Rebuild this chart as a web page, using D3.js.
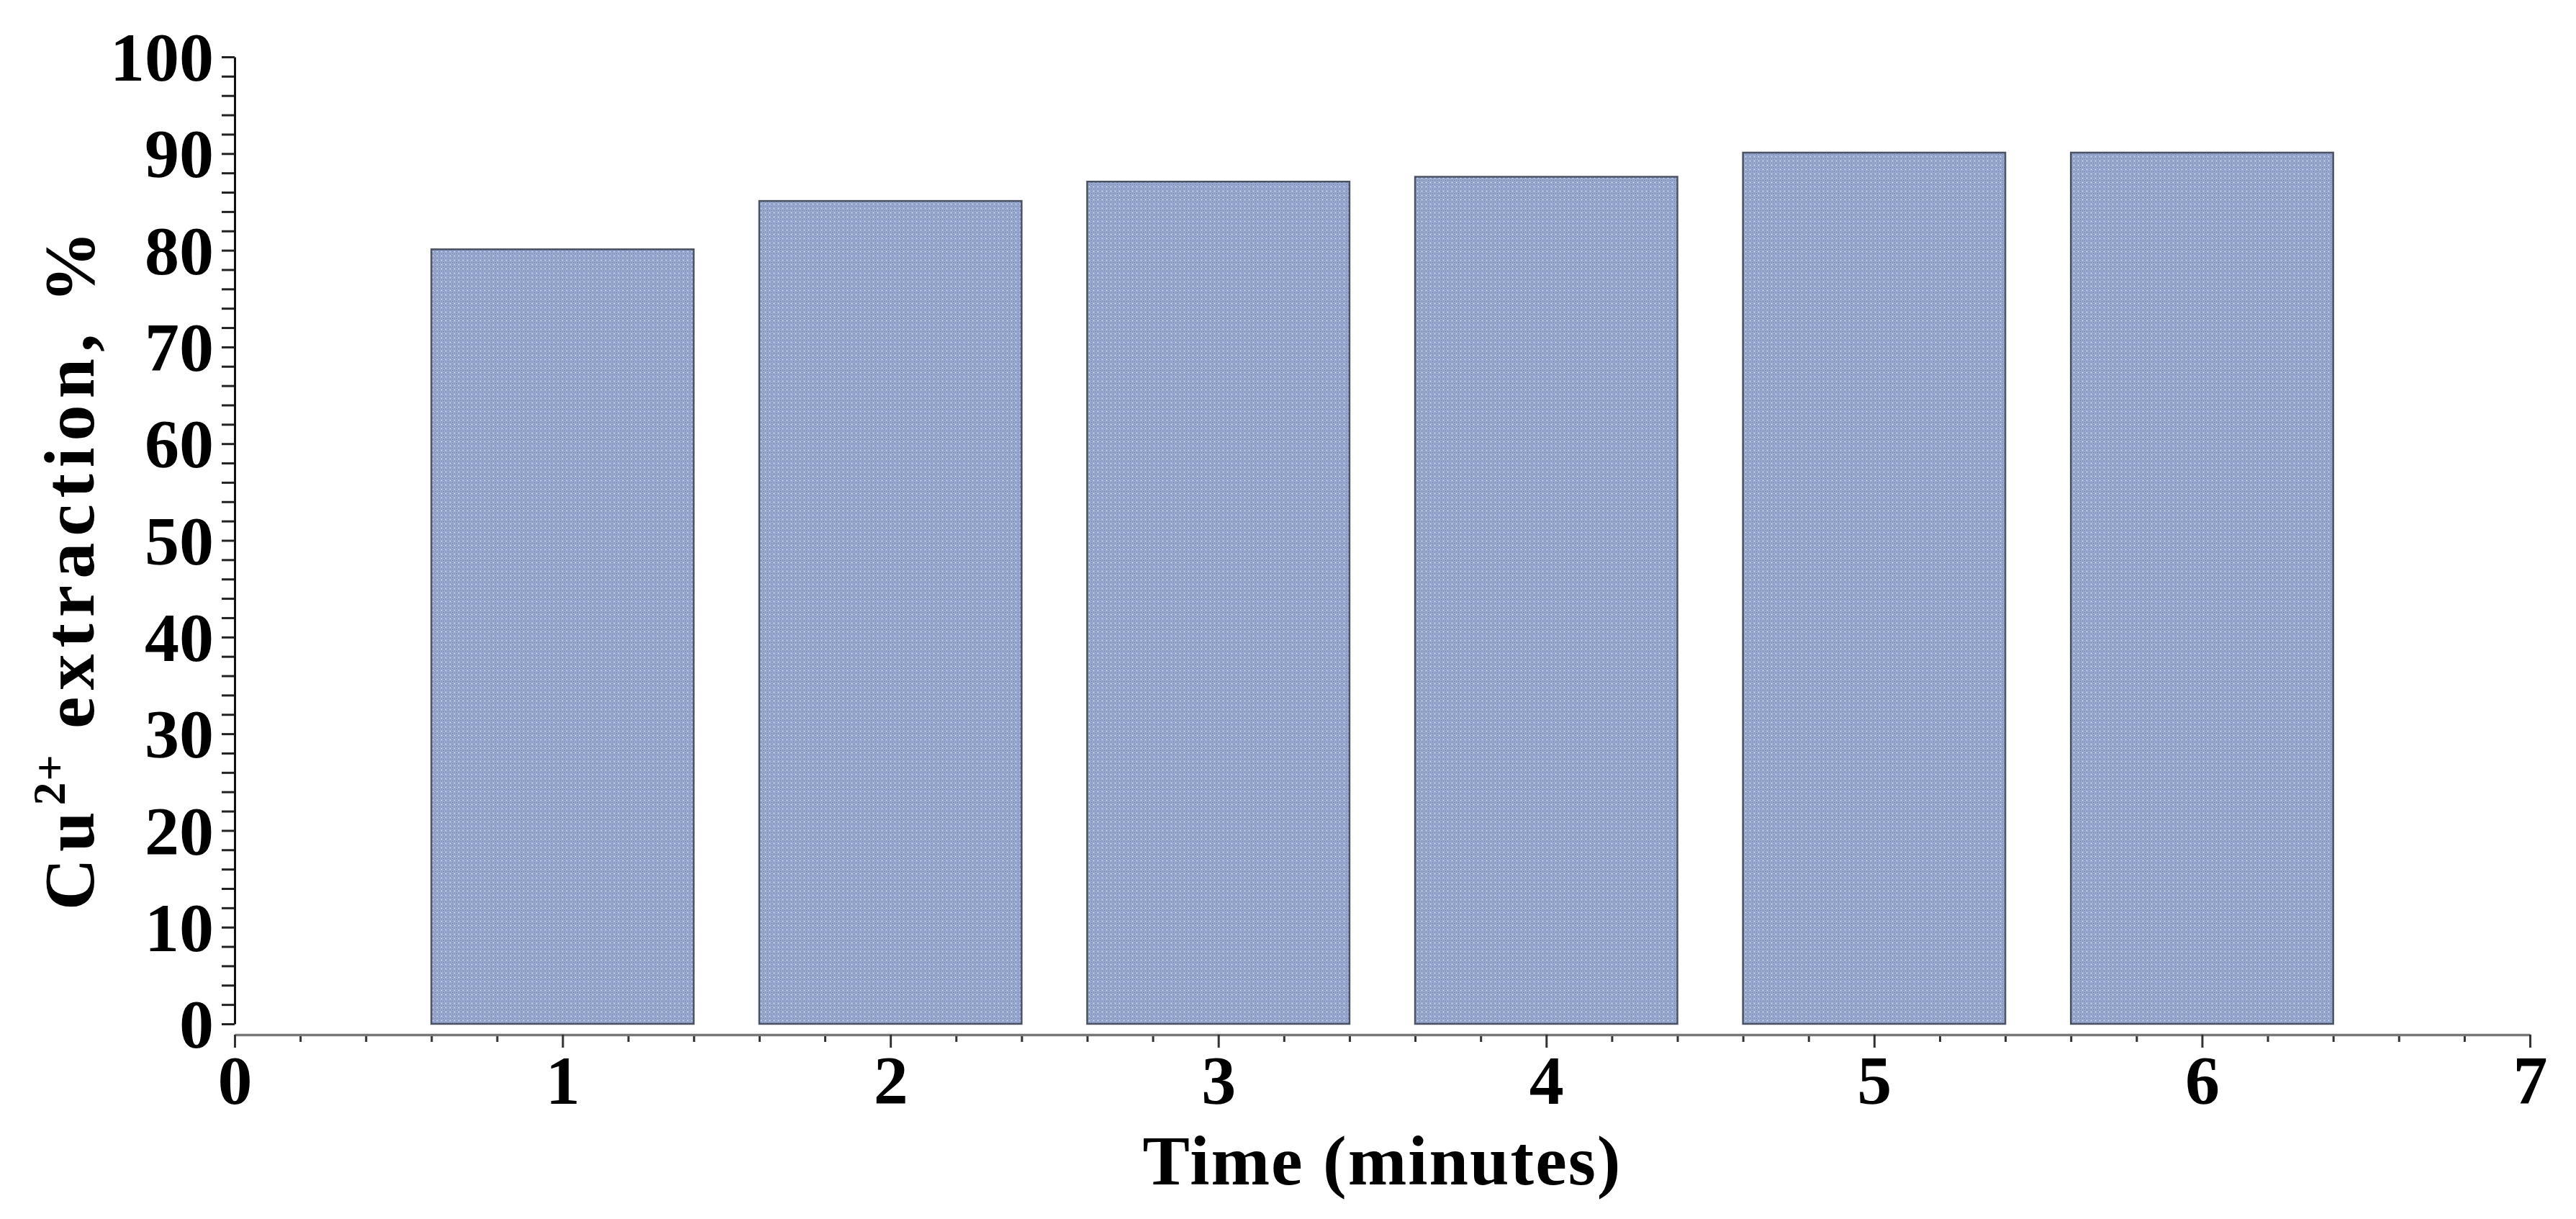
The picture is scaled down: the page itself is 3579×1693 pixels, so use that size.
<!DOCTYPE html>
<html>
<head>
<meta charset="utf-8">
<script src="https://cdn.jsdelivr.net/npm/d3@7"></script>
<style>
  html, body { margin: 0; padding: 0; background: #ffffff; }
  svg { display: block; }
  text { font-family: "Liberation Serif", "Times New Roman", serif; font-weight: bold; fill: #000; }
</style>
</head>
<body>
<svg id="chart" width="3579" height="1693"></svg>
<script>
// ---- data ----
const times = [1, 2, 3, 4, 5, 6];
const extraction = [80.1, 85.1, 87.1, 87.6, 90.1, 90.1];
const xTickValues = [0, 1, 2, 3, 4, 5, 6, 7];
const yTickValues = [0, 10, 20, 30, 40, 50, 60, 70, 80, 90, 100];
const xLabel = "Time (minutes)";
const yLabelMain = "Cu";
const yLabelSup = "2+";
const yLabelRest = " extraction, %";

// ---- layout ----
const svg = d3.select("#chart");
const x = d3.scaleLinear().domain([0, 7]).range([326, 3515]);
const y = d3.scaleLinear().domain([0, 100]).range([1422, 79]);
const xAxisY = 1437;
const barHalf = 0.4;

// pattern for bars
const defs = svg.append("defs");
const pat = defs.append("pattern")
  .attr("id", "dots").attr("patternUnits", "userSpaceOnUse")
  .attr("width", 6).attr("height", 6);
pat.append("rect").attr("width", 6).attr("height", 6).attr("fill", "#8d9fc7");
pat.append("rect").attr("x", 0).attr("y", 0).attr("width", 3).attr("height", 3).attr("fill", "#a1b1d5");
pat.append("rect").attr("x", 3).attr("y", 3).attr("width", 3).attr("height", 3).attr("fill", "#a1b1d5");
pat.append("rect").attr("x", 1).attr("y", 1).attr("width", 1).attr("height", 1).attr("fill", "#dde6f7");
pat.append("rect").attr("x", 4).attr("y", 4).attr("width", 1).attr("height", 1).attr("fill", "#52648f");

// bars
svg.append("g").selectAll("rect.bar")
  .data(times.map((t, i) => ({ t, v: extraction[i] })))
  .join("rect")
  .attr("class", "bar")
  .attr("x", d => x(d.t - barHalf))
  .attr("width", d => x(d.t + barHalf) - x(d.t - barHalf))
  .attr("y", d => y(d.v))
  .attr("height", d => y(0) - y(d.v))
  .attr("fill", "url(#dots)")
  .attr("stroke", "#4a5263")
  .attr("stroke-width", 2.5);

// y axis minor ticks
const yMinor = d3.range(0, 101, 2).filter(v => v % 10 !== 0);
const yMinorAxis = d3.axisLeft(y).tickValues(yMinor).tickSize(18).tickSizeOuter(0).tickFormat("");
svg.append("g").attr("transform", `translate(${x(0)},0)`).call(yMinorAxis)
  .call(g => g.select(".domain").remove())
  .call(g => g.selectAll("line").attr("stroke", "#222").attr("stroke-width", 3));

// y axis major
const yAxis = d3.axisLeft(y).tickValues(yTickValues).tickSize(18).tickSizeOuter(0).tickPadding(11).tickFormat(d3.format("d"));
svg.append("g").attr("transform", `translate(${x(0)},0)`).call(yAxis)
  .call(g => g.select(".domain").attr("stroke", "#111").attr("stroke-width", 3))
  .call(g => g.selectAll("line").attr("stroke", "#222").attr("stroke-width", 3))
  .call(g => g.selectAll("text").attr("font-size", 96).attr("font-family", null).attr("dy", "0.34em"));

// x axis minor ticks
const xMinor = d3.range(0, 35).map(i => i / 5).filter((v, i) => i % 5 !== 0);
const xMinorAxis = d3.axisBottom(x).tickValues(xMinor).tickSize(10).tickSizeOuter(0).tickFormat("");
svg.append("g").attr("transform", `translate(0,${xAxisY})`).call(xMinorAxis)
  .call(g => g.select(".domain").remove())
  .call(g => g.selectAll("line").attr("stroke", "#333").attr("stroke-width", 3));

// x axis major
const xAxis = d3.axisBottom(x).tickValues(xTickValues).tickSize(18).tickSizeOuter(0).tickFormat(d3.format("d"));
svg.append("g").attr("transform", `translate(0,${xAxisY})`).call(xAxis)
  .call(g => g.select(".domain").attr("stroke", "#777").attr("stroke-width", 3.5))
  .call(g => g.selectAll("line").attr("stroke", "#333").attr("stroke-width", 3))
  .call(g => g.selectAll("text").attr("font-size", 96).attr("font-family", null).attr("y", 96).attr("dy", null));

// x title
svg.append("text")
  .attr("x", (x(0) + x(7)) / 2)
  .attr("y", 1645)
  .attr("text-anchor", "middle")
  .attr("font-size", 98)
  .attr("letter-spacing", 2)
  .text(xLabel);

// y title
const yt = svg.append("text")
  .attr("transform", `translate(130,788) rotate(-90)`)
  .attr("text-anchor", "middle")
  .attr("font-size", 100)
  .attr("letter-spacing", 9);
yt.append("tspan").text(yLabelMain);
yt.append("tspan").attr("font-size", 64).attr("dy", -40).attr("letter-spacing", 2).text(yLabelSup);
yt.append("tspan").attr("dy", 40).text(yLabelRest);
</script>
</body>
</html>
